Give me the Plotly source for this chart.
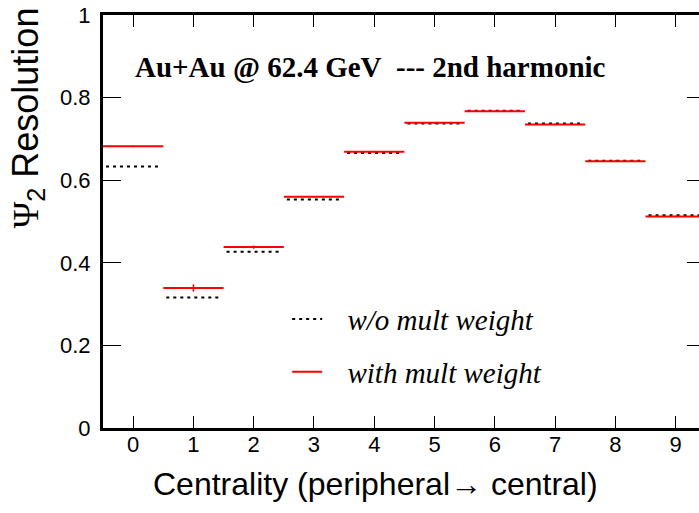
import plotly.graph_objects as go

# ---- data ----
centrality = [0, 1, 2, 3, 4, 5, 6, 7, 8, 9]
res_without = [0.633, 0.316, 0.427, 0.553, 0.666, 0.737, 0.768, 0.737, 0.647, 0.515]
res_with = [0.682, 0.339, 0.438, 0.560, 0.669, 0.739, 0.767, 0.735, 0.646, 0.512]
err_with = [0.002, 0.009, 0.004, 0.002, 0.002, 0.002, 0.002, 0.002, 0.002, 0.002]
err_without = [0.0, 0.0, 0.0, 0.0, 0.0, 0.0, 0.0, 0.0, 0.0, 0.0]
y_ticks = [0, 0.2, 0.4, 0.6, 0.8, 1]
y_tick_text = ["0", "0.2", "0.4", "0.6", "0.8", "1"]
HALF_BIN = 0.5
HALF_BIN_DASH = 0.45

NBSP = "\u00a0"


def step_xy(xs, ys, hw):
    X, Y = [], []
    for x, y in zip(xs, ys):
        X += [x - hw, x + hw, None]
        Y += [y, y, None]
    return X, Y


fig = go.Figure()

bx, by = step_xy(centrality, res_without, HALF_BIN_DASH)
fig.add_trace(go.Scatter(x=bx, y=by, mode="lines", name=NBSP * 2 + "\u2009w/o mult weight",
                         line=dict(color="black", width=2, dash="3px,4px"),
                         legendgroup="a", hoverinfo="skip"))
fig.add_trace(go.Scatter(x=centrality, y=res_without, mode="markers", showlegend=False,
                         marker=dict(size=0.1, color="black"),
                         error_y=dict(type="data", array=err_without, width=0, thickness=1.5, color="black")))

rx, ry = step_xy(centrality, res_with, HALF_BIN)
fig.add_trace(go.Scatter(x=rx, y=ry, mode="lines", name=NBSP * 2 + "\u2009with mult weight",
                         line=dict(color="#ff0000", width=2),
                         legendgroup="b", hoverinfo="skip"))
fig.add_trace(go.Scatter(x=centrality, y=res_with, mode="markers", showlegend=False,
                         marker=dict(size=0.1, color="#ff0000"),
                         error_y=dict(type="data", array=err_with, width=0, thickness=1.5, color="#ff0000")))

# invisible trace on the secondary y axis to get right-hand ticks
fig.add_trace(go.Scatter(x=[None], y=[None], yaxis="y2", showlegend=False, hoverinfo="skip"))

fig.update_layout(
    width=699, height=513,
    margin=dict(l=103, r=0, t=15, b=85),
    paper_bgcolor="white", plot_bgcolor="white",
    showlegend=True,
    legend=dict(x=0.309, y=0.325, xanchor="left", yanchor="top",
                font=dict(family="Liberation Serif", size=29, color="black", style="italic"),
                bgcolor="rgba(0,0,0,0)", borderwidth=0,
                traceorder="grouped", tracegroupgap=12),
    xaxis=dict(range=[-0.5, 9.387], tickmode="array", tickvals=centrality,
               ticktext=[str(c) for c in centrality],
               ticks="inside", ticklen=12, tickwidth=1, tickcolor="black",
               showline=True, linewidth=3, linecolor="black", mirror="ticks",
               showgrid=False, zeroline=False, ticklabelstandoff=-5,
               tickfont=dict(family="Liberation Sans", size=22, color="black")),
    yaxis=dict(range=[0, 1], tickmode="array", tickvals=y_ticks, ticktext=y_tick_text,
               ticks="inside", ticklen=18, tickwidth=1, tickcolor="black",
               showline=True, linewidth=3, linecolor="black", mirror=False,
               showgrid=False, zeroline=False, ticklabelstandoff=5,
               tickfont=dict(family="Liberation Sans", size=22, color="black")),
    yaxis2=dict(range=[0, 1], overlaying="y", side="right", anchor="free", position=1.0,
                tickmode="array", tickvals=y_ticks, showticklabels=False,
                ticks="inside", ticklen=12, tickwidth=1, tickcolor="black",
                showline=False, showgrid=False, zeroline=False),
    annotations=[
        dict(text="<b>Au+Au @ 62.4 GeV" + NBSP * 2 + "--- 2nd harmonic</b>",
             xref="paper", yref="paper", x=0.0503, y=0.873, xanchor="left", yanchor="middle",
             showarrow=False, font=dict(family="Liberation Serif", size=29, color="black")),
        dict(text="<span style=\"font-family:'Liberation Serif'\">\u03a8</span><sub>2</sub> Resolution",
             xref="paper", yref="paper", x=-0.1258, y=0.75, xanchor="center", yanchor="middle",
             textangle=-90, showarrow=False,
             font=dict(family="Liberation Sans", size=36, color="black")),
        dict(text="Centrality (peripheral\u2192 central)",
             xref="paper", yref="paper", x=0.4564, y=-0.1365, xanchor="center", yanchor="middle",
             showarrow=False, font=dict(family="Liberation Sans", size=32, color="black")),
    ],
)

fig.write_html("out.html", config={"displayModeBar": False},
               post_script="document.body.style.margin='0';")
